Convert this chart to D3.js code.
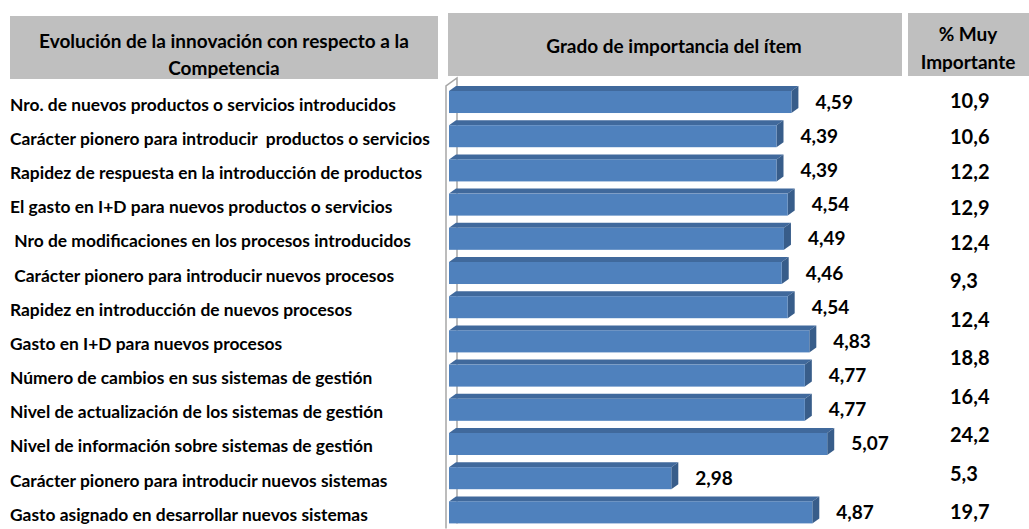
<!DOCTYPE html>
<html>
<head>
<meta charset="utf-8">
<script src="https://cdn.jsdelivr.net/npm/d3@7"></script>
<style>
  body { margin: 0; background: #fff; }
  svg text { font-family: Lato, "Open Sans", sans-serif; font-weight: bold; fill: #000; }
</style>
</head>
<body>
<svg id="chart"></svg>
<script>
// items (rows, top to bottom)
const items = [
  'Nro. de nuevos productos o servicios introducidos',
  'Carácter pionero para introducir  productos o servicios',
  'Rapidez de respuesta en la introducción de productos',
  'El gasto en I+D para nuevos productos o servicios',
  ' Nro de modificaciones en los procesos introducidos',
  ' Carácter pionero para introducir nuevos procesos',
  'Rapidez en introducción de nuevos procesos',
  'Gasto en I+D para nuevos procesos',
  'Número de cambios en sus sistemas de gestión',
  'Nivel de actualización de los sistemas de gestión',
  'Nivel de información sobre sistemas de gestión',
  'Carácter pionero para introducir nuevos sistemas',
  'Gasto asignado en desarrollar nuevos sistemas'
];
// grado de importancia del item
const importancia = [4.59, 4.39, 4.39, 4.54, 4.49, 4.46, 4.54, 4.83, 4.77, 4.77, 5.07, 2.98, 4.87];
// % muy importante (column on the right, only 12 values in the source table)
const muyImportante = [10.9, 10.6, 12.2, 12.9, 12.4, 9.3, 12.4, 18.8, 16.4, 24.2, 5.3, 19.7];

const headers = {
  left: ['Evolución de la innovación con respecto a la', 'Competencia'],
  middle: ['Grado de importancia del ítem'],
  right: ['% Muy', 'Importante']
};

const fmt = v => d3.format('.2f')(v).replace('.', ',');
const fmt1 = v => d3.format('.1f')(v).replace('.', ',');

class Bar3DTable {

  constructor(_config) {
    this.config = {
      parentElement: _config.parentElement,
      containerWidth: 1029,
      containerHeight: 529,
      depth: {dx: 7, dy: -5}
    };
    this.initVis();
  }

  initVis() {
    let vis = this;

    vis.svg = d3.select(vis.config.parentElement)
        .attr('width', vis.config.containerWidth)
        .attr('height', vis.config.containerHeight);

    // value axis starts at the back wall
    vis.xScale = d3.scaleLinear()
        .domain([0, 6])
        .range([449, 449 + 6 * 74.6]);

    // one band per item: top face + front face
    vis.yScale = d3.scaleBand()
        .domain(d3.range(items.length))
        .range([86, 86 + items.length * 34.2 - 7.2])
        .paddingInner(0.21)
        .paddingOuter(0);

    // right column does not line up with the rows after the 5th one
    vis.pctScale = d3.scaleLinear()
        .domain([0, 4, muyImportante.length - 1])
        .range([100, 242, 511]);

    vis.renderVis();
  }

  renderVis() {
    let vis = this;
    const {dx, dy} = vis.config.depth;
    const front = i => vis.yScale(i) - dy;          // top of front face
    const fh = vis.yScale.bandwidth() + dy;          // front face height
    const x0 = vis.xScale(0);

    // header boxes, text is cut at the bottom edge of each box
    const boxes = [
      {id: 'hl', x: 10, y: 16, w: 428, h: 63, lines: headers.left, cx: 224, y0: 40, lh: 27},
      {id: 'hm', x: 448, y: 13, w: 454, h: 63, lines: headers.middle, cx: 674, y0: 45, lh: 0},
      {id: 'hr', x: 908, y: 13, w: 121, h: 63, lines: headers.right, cx: 968, y0: 33, lh: 28}
    ];
    const defs = vis.svg.append('defs');
    defs.selectAll('clipPath').data(boxes).join('clipPath')
        .attr('id', d => `clip-${d.id}`)
      .append('rect')
        .attr('x', d => d.x).attr('y', d => d.y).attr('width', d => d.w).attr('height', d => d.h);

    const hdr = vis.svg.append('g').attr('class', 'headers')
      .selectAll('g').data(boxes).join('g')
        .attr('clip-path', d => `url(#clip-${d.id})`);
    hdr.append('rect')
        .attr('x', d => d.x).attr('y', d => d.y).attr('width', d => d.w).attr('height', d => d.h)
        .attr('fill', '#bfbfbf');
    hdr.selectAll('text').data(d => d.lines.map((t, i) => ({t, x: d.cx, y: d.y0 + i * d.lh}))).join('text')
        .attr('x', d => d.x).attr('y', d => d.y)
        .attr('text-anchor', 'middle').attr('dominant-baseline', 'central')
        .style('font-size', '19px').text(d => d.t);

    // thin 3D back wall
    const yTop = vis.yScale(0);
    const yBot = front(items.length - 1) + fh + 5;
    vis.svg.append('path')
        .attr('d', `M${x0 - 3},${yBot} L${x0 - 3},${yTop} L${x0 - 3 + dx + 4},${yTop + dy - 3} L${x0 - 3 + dx + 4},${yBot + dy}`)
        .attr('fill', 'none')
        .attr('stroke', '#a6a6a6')
        .attr('stroke-width', 1.5);

    // bars
    const bars = vis.svg.append('g').attr('class', 'bars')
      .selectAll('g')
        .data(importancia)
      .join('g');

    bars.append('path')
        .attr('class', 'top')
        .attr('d', (d, i) => {
          const y = front(i), x1 = vis.xScale(d);
          return `M${x0},${y} L${x1},${y} L${x1 + dx},${y + dy} L${x0 + dx},${y + dy} Z`;
        })
        .attr('fill', '#40699c');

    bars.append('path')
        .attr('class', 'side')
        .attr('d', (d, i) => {
          const y = front(i), x1 = vis.xScale(d);
          return `M${x1},${y} L${x1 + dx},${y + dy} L${x1 + dx},${y + fh + dy} L${x1},${y + fh} Z`;
        })
        .attr('fill', '#385d8a');

    bars.append('rect')
        .attr('class', 'front')
        .attr('x', x0)
        .attr('y', (d, i) => front(i))
        .attr('width', d => vis.xScale(d) - x0)
        .attr('height', fh)
        .attr('fill', '#4f81bd');

    // value labels
    bars.append('text')
        .attr('x', d => vis.xScale(d) + dx + 17)
        .attr('y', (d, i) => front(i) + fh / 2 - 1)
        .attr('dominant-baseline', 'central')
        .style('font-size', '19px')
        .text(d => fmt(d));

    // item labels on the left
    vis.svg.append('g').attr('class', 'items')
      .selectAll('text')
        .data(items)
      .join('text')
        .attr('x', 10)
        .attr('y', (d, i) => front(i) + fh / 2 + 2)
        .attr('dominant-baseline', 'central')
        .attr('xml:space', 'preserve')
        .style('white-space', 'pre')
        .style('font-size', '17.4px')
        .text(d => d);

    // % muy importante column
    vis.svg.append('g').attr('class', 'pct')
      .selectAll('text')
        .data(muyImportante)
      .join('text')
        .attr('x', 950)
        .attr('y', (d, i) => vis.pctScale(i))
        .attr('dominant-baseline', 'central')
        .style('font-size', '20px')
        .text(d => fmt1(d));
  }
}

new Bar3DTable({parentElement: '#chart'});
</script>
</body>
</html>
